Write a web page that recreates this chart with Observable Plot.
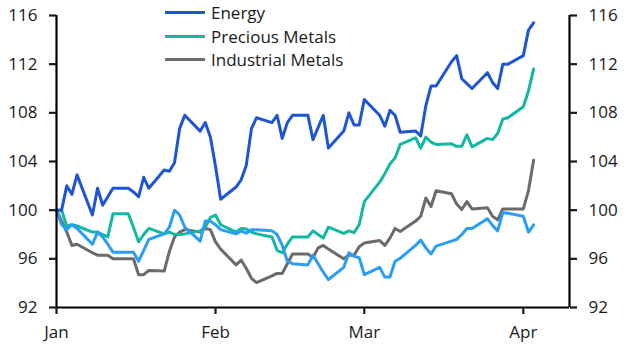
<!DOCTYPE html>
<html><head><meta charset="utf-8">
<script src="https://cdn.jsdelivr.net/npm/d3@7"></script>
<script src="https://cdn.jsdelivr.net/npm/@observablehq/plot@0.6"></script>
<style>
body{margin:0;background:#fff;}
#wrap{position:relative;width:631px;height:351px;font-family:"Open Sans",sans-serif;color:#1a1a1a;}
#legend{position:absolute;left:165px;top:0;}
.item{position:absolute;left:0;height:24px;display:flex;align-items:center;white-space:nowrap;font-size:17px;}
.sw{display:inline-block;width:40px;height:3px;margin-right:6px;}
</style></head><body>
<div id="wrap"><div id="chart"></div><div id="legend"></div></div>
<script>
const dates = [
 "2024-01-01","2024-01-02","2024-01-03","2024-01-04","2024-01-05","2024-01-08","2024-01-09","2024-01-10","2024-01-11","2024-01-12",
 "2024-01-15","2024-01-16","2024-01-17","2024-01-18","2024-01-19","2024-01-22","2024-01-23","2024-01-24","2024-01-25","2024-01-26",
 "2024-01-29","2024-01-30","2024-01-31",
 "2024-02-01","2024-02-02","2024-02-05","2024-02-06","2024-02-07","2024-02-08","2024-02-09","2024-02-12","2024-02-13","2024-02-14",
 "2024-02-15","2024-02-16","2024-02-19","2024-02-20","2024-02-21","2024-02-22","2024-02-23","2024-02-26","2024-02-27","2024-02-28","2024-02-29",
 "2024-03-01","2024-03-04","2024-03-05","2024-03-06","2024-03-07","2024-03-08","2024-03-11","2024-03-12","2024-03-13","2024-03-14",
 "2024-03-15","2024-03-18","2024-03-19","2024-03-20","2024-03-21","2024-03-22","2024-03-25","2024-03-26","2024-03-27","2024-03-28","2024-03-29",
 "2024-04-01","2024-04-02","2024-04-03"
];
const energy = [
 100,100,102.0,101.3,102.9,99.6,101.8,100.4,101.1,101.8,101.8,101.5,101.1,102.7,101.8,103.3,103.2,103.9,106.7,107.8,106.5,107.2,106.0,
 103.6,100.9,101.9,102.5,103.7,106.7,107.6,107.2,107.8,105.9,107.2,107.8,107.8,105.8,106.8,107.8,105.1,106.5,108.0,107.0,107.0,
 109.1,107.8,106.9,108.2,107.8,106.4,106.5,106.1,108.6,110.2,110.2,112.2,112.7,110.8,110.4,110.0,111.3,110.5,110.0,112.0,112.0,
 112.7,114.8,115.4
];
const precious = [
 100,100,98.7,98.8,98.7,98.2,98.2,98.0,97.8,99.7,99.7,98.6,97.4,98.0,98.5,98.05,98.2,98.0,98.0,98.05,98.3,98.6,99.4,
 99.6,98.8,98.2,98.5,98.45,98.2,98.05,97.8,96.7,96.5,97.2,97.8,97.8,98.3,98.0,97.7,98.6,98.1,98.3,98.15,98.8,
 100.7,102.3,103.0,103.8,104.3,105.4,105.95,105.1,106.0,105.6,105.4,105.45,105.25,105.25,106.2,105.2,105.9,105.8,106.3,107.5,107.6,
 108.5,109.8,111.6
];
const industrial = [
 100,99.1,98.2,97.1,97.2,96.5,96.3,96.3,96.3,96.0,96.0,96.0,94.7,94.7,95.05,95.0,96.6,97.8,98.2,98.4,98.2,98.5,98.4,
 97.4,96.8,95.5,95.9,95.2,94.4,94.05,94.6,94.8,94.8,95.6,96.4,96.4,96.1,96.9,97.1,96.8,96.0,96.3,96.3,97.0,
 97.3,97.5,97.1,97.7,98.5,98.25,99.1,99.5,101.0,100.3,101.6,101.35,100.5,100.05,100.7,100.1,100.2,99.5,99.2,100.1,100.1,
 100.1,101.6,104.1
];
const other = [
 100,98.8,98.4,98.8,98.5,97.2,98.2,97.8,97.2,96.55,96.55,96.55,95.8,96.7,97.6,98.05,98.6,100.0,99.6,98.6,97.45,99.1,99.1,
 98.8,98.4,98.05,98.3,98.1,98.4,98.4,98.3,98.0,97.1,95.8,95.6,95.5,96.3,95.6,94.9,94.3,95.3,96.5,96.2,96.1,
 94.7,95.3,94.5,94.5,95.8,96.05,97.1,97.55,96.9,96.4,97.05,97.45,97.6,98.0,98.5,98.5,99.3,98.75,98.3,99.8,99.75,
 99.5,98.2,98.8
];
const seriesNames = ["Industrial Metals", "Precious Metals", "Other", "Energy"];
const seriesColors = ["#6b6b6b", "#13b8a2", "#2b9ef3", "#1f55d3"];
const legendNames = ["Energy", "Precious Metals", "Industrial Metals"];
const yTicks = [92, 96, 100, 104, 108, 112, 116];
const xTicks = ["2024-01-01", "2024-02-01", "2024-03-01", "2024-04-01"];
const xDomain = ["2024-01-01", "2024-04-10"];

const valuesBySeries = {"Energy": energy, "Precious Metals": precious, "Industrial Metals": industrial, "Other": other};
const rows = [];
for (const s of seriesNames) {
  valuesBySeries[s].forEach((v, i) => rows.push({series: s, date: new Date(dates[i]), value: v}));
}
const xd = xDomain.map(d => new Date(d));

const chart = Plot.plot({
  width: 631, height: 351,
  marginLeft: 56, marginRight: 62, marginTop: 15, marginBottom: 44,
  style: {fontFamily: "'Open Sans', sans-serif", fontSize: "17px", color: "#1a1a1a", background: "#fff"},
  x: {type: "utc", domain: xd},
  y: {domain: [yTicks[0], yTicks[yTicks.length - 1]]},
  color: {domain: seriesNames, range: seriesColors},
  marks: [
    Plot.line(rows, {x: "date", y: "value", z: "series", stroke: "series", strokeWidth: 3, strokeLinejoin: "round"}),
    Plot.ruleX(xd, {stroke: "#000", strokeWidth: 2.2}),
    Plot.ruleY([yTicks[0]], {stroke: "#000", strokeWidth: 2.2}),
    Plot.axisY({anchor: "left", ticks: yTicks, tickSize: 7, tickPadding: 12, strokeWidth: 2.2, label: null, fill: "#1a1a1a"}),
    Plot.axisY({anchor: "right", ticks: yTicks, tickSize: 7, tickPadding: 12, strokeWidth: 2.2, label: null, fill: "#1a1a1a"}),
    Plot.axisX({ticks: xTicks.map(d => new Date(d)), tickFormat: d3.utcFormat("%b"), tickSize: 7, tickPadding: 11, strokeWidth: 2.2, label: null, fill: "#1a1a1a"})
  ]
});
document.getElementById("chart").appendChild(chart);

const legend = document.getElementById("legend");
legendNames.forEach((name, i) => {
  const item = document.createElement("div");
  item.className = "item";
  item.style.top = (0.5 + i * 23.5) + "px";
  const sw = document.createElement("span");
  sw.className = "sw";
  sw.style.background = seriesColors[seriesNames.indexOf(name)];
  item.appendChild(sw);
  item.appendChild(document.createTextNode(name));
  legend.appendChild(item);
});
</script>
</body></html>
